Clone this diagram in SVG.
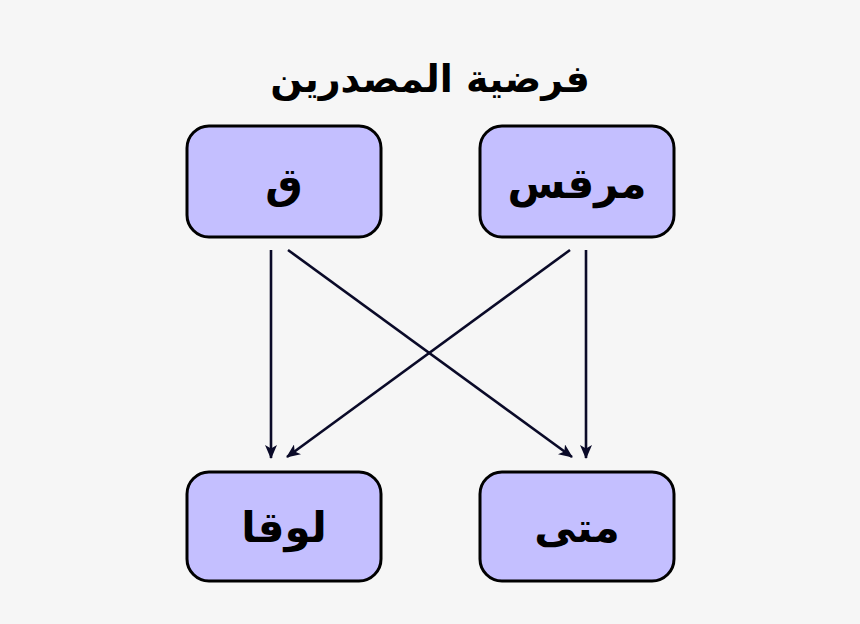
<svg xmlns="http://www.w3.org/2000/svg" width="860" height="624" viewBox="0 0 860 624">
<style>
.box{fill:#c4bfff;stroke:#000;stroke-width:3}
.lbl{font-family:"DejaVu Serif","DejaVu Sans",serif;font-weight:bold;font-size:42px;text-anchor:middle;fill:#000}
.ttl{font-family:"DejaVu Serif","DejaVu Sans",serif;font-weight:bold;font-size:38px;text-anchor:middle;fill:#000}
.edge{stroke:#0a0a28;stroke-width:2.6;fill:none;marker-end:url(#ah)}
</style>
<defs>
<marker id="ah" viewBox="0 0 14 12" refX="13" refY="6" markerWidth="14" markerHeight="12" markerUnits="userSpaceOnUse" orient="auto">
<path d="M0,0 L14,6 L0,12 L3.5,6 Z" fill="#0a0a28"/>
</marker>
</defs>
<rect width="860" height="624" fill="#f6f6f6"/>
<text class="ttl" x="430" y="92" direction="rtl">فرضية المصدرين</text>
<g id="nodeQ"><rect class="box" x="187" y="126" width="194" height="111" rx="22"/><text class="lbl" x="284" y="198" direction="rtl">ق</text></g>
<g id="nodeMark"><rect class="box" x="480" y="126" width="194" height="111" rx="22"/><text class="lbl" x="577" y="198" direction="rtl">مرقس</text></g>
<g id="nodeLuke"><rect class="box" x="187" y="472" width="194" height="109" rx="22"/><text class="lbl" x="284" y="542" direction="rtl">لوقا</text></g>
<g id="nodeMatt"><rect class="box" x="480" y="472" width="194" height="109" rx="22"/><text class="lbl" x="577" y="542" direction="rtl">متى</text></g>
<g id="connectors">
<line class="edge" x1="271" y1="250" x2="271" y2="458"/>
<line class="edge" x1="586" y1="250" x2="586" y2="458"/>
<line class="edge" x1="288" y1="250" x2="572" y2="457"/>
<line class="edge" x1="570" y1="250" x2="287" y2="457"/>
</g>
</svg>
